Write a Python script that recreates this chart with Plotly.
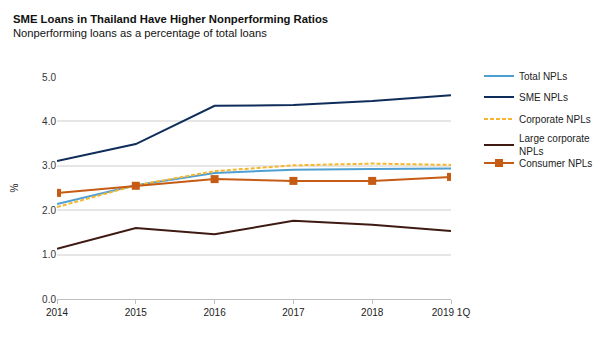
import plotly.graph_objects as go

years = ["2014", "2015", "2016", "2017", "2018", "2019 1Q"]
xpos = [0, 1, 2, 3, 4, 5]

total_npl = [2.14, 2.56, 2.84, 2.91, 2.93, 2.94]
sme_npl = [3.11, 3.49, 4.35, 4.37, 4.46, 4.59]
corporate_npl = [2.07, 2.56, 2.88, 3.01, 3.05, 3.02]
large_corp_npl = [1.13, 1.60, 1.46, 1.76, 1.67, 1.53]
consumer_npl = [2.39, 2.55, 2.70, 2.66, 2.66, 2.75]

PLOT_TOP, PLOT_BOTTOM, PLOT_LEFT, PLOT_RIGHT = 77, 299, 57, 451
PH = PLOT_BOTTOM - PLOT_TOP
PW = PLOT_RIGHT - PLOT_LEFT


def py(pix):
    return (PLOT_BOTTOM - pix) / PH


fig = go.Figure()
fig.add_trace(go.Scatter(x=xpos, y=total_npl, mode="lines", name="Total NPLs",
                         line=dict(color="#4f9fd2", width=2), legend="legend"))
fig.add_trace(go.Scatter(x=xpos, y=sme_npl, mode="lines", name="SME NPLs",
                         line=dict(color="#0f2d5a", width=2), legend="legend2"))
fig.add_trace(go.Scatter(x=xpos, y=corporate_npl, mode="lines", name="Corporate NPLs",
                         line=dict(color="#f5b731", width=2, dash="4px,2px"), legend="legend3"))
fig.add_trace(go.Scatter(x=xpos, y=large_corp_npl, mode="lines", name="Large corporate<br>NPLs",
                         line=dict(color="#3e1a12", width=2), legend="legend4"))
fig.add_trace(go.Scatter(x=xpos, y=consumer_npl, mode="lines+markers", name="Consumer NPLs",
                         line=dict(color="#c65b14", width=2),
                         marker=dict(symbol="square", size=8, color="#c65b14"), legend="legend5"))

leg_x = 1 + (479 - PLOT_RIGHT) / PW


def leg(ypix, anchor="middle"):
    return dict(x=leg_x, y=py(ypix), xanchor="left", yanchor=anchor,
                font=dict(size=10, color="#222222"), itemwidth=30,
                bgcolor="rgba(0,0,0,0)")


fig.update_layout(
    width=600, height=360,
    margin=dict(l=PLOT_LEFT, r=600 - PLOT_RIGHT, t=PLOT_TOP, b=360 - PLOT_BOTTOM, autoexpand=False),
    paper_bgcolor="white", plot_bgcolor="white",
    font=dict(family="Liberation Sans, Arial, sans-serif", color="#333333", size=10),
    showlegend=True,
    legend=leg(76), legend2=leg(97), legend3=leg(119), legend4=leg(145), legend5=leg(163),
    xaxis=dict(range=[0, 5], tickvals=xpos, ticktext=years, showgrid=False,
               showline=True, linecolor="#bfbfbf", linewidth=1,
               ticks="outside", tickcolor="#bfbfbf", ticklen=4,
               tickfont=dict(size=10, color="#222222"), zeroline=False),
    yaxis=dict(range=[0, 5], dtick=1, tickformat=".1f", showgrid=True,
               gridcolor="#e6e6e6", gridwidth=1.5, zeroline=False,
               tickfont=dict(size=10, color="#333333"),
               title=dict(text="%", font=dict(size=10, color="#222222"), standoff=21)),
)

fig.add_annotation(text="<b>SME Loans in Thailand Have Higher Nonperforming Ratios</b>",
                   xref="paper", yref="paper", x=-(PLOT_LEFT - 11) / PW, y=py(19),
                   xanchor="left", yanchor="middle", showarrow=False,
                   font=dict(size=11.3, color="#111111"))
fig.add_annotation(text="Nonperforming loans as a percentage of total loans",
                   xref="paper", yref="paper", x=-(PLOT_LEFT - 11) / PW, y=py(33),
                   xanchor="left", yanchor="middle", showarrow=False,
                   font=dict(size=11.2, color="#111111"))

fig.write_html("out.html", config={"displayModeBar": False},
               post_script="document.body.style.margin='0';document.body.style.padding='0';")
